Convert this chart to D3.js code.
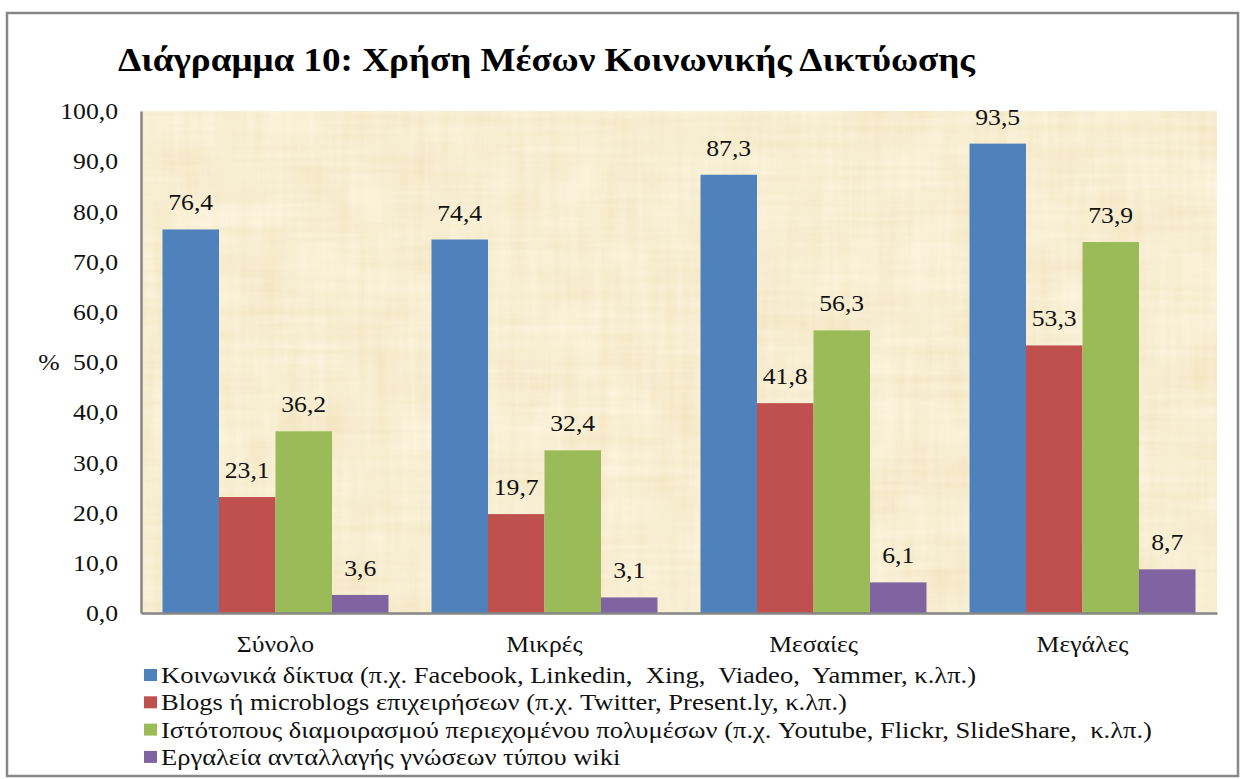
<!DOCTYPE html>
<html>
<head>
<meta charset="utf-8">
<script src="https://cdn.jsdelivr.net/npm/d3@7"></script>
<style>
  body { margin: 0; background: #fff; }
  svg text { font-family: "Liberation Serif", "Times New Roman", serif; }
</style>
</head>
<body>
<svg id="chart" width="1241" height="779"></svg>
<script>
// chart data
const categories = ['Σύνολο', 'Μικρές', 'Μεσαίες', 'Μεγάλες'];
const seriesNames = [
  'Κοινωνικά δίκτυα (π.χ. Facebook, Linkedin,  Xing,  Viadeo,  Yammer, κ.λπ.)',
  'Blogs ή microblogs επιχειρήσεων (π.χ. Twitter, Present.ly, κ.λπ.)',
  'Ιστότοπους διαμοιρασμού περιεχομένου πολυμέσων (π.χ. Youtube, Flickr, SlideShare,  κ.λπ.)',
  'Εργαλεία ανταλλαγής γνώσεων τύπου wiki'
];
const socialNetworks = [76.4, 74.4, 87.3, 93.5];
const blogs = [23.1, 19.7, 41.8, 53.3];
const mediaSharing = [36.2, 32.4, 56.3, 73.9];
const wikis = [3.6, 3.1, 6.1, 8.7];
const yTicks = [0, 10, 20, 30, 40, 50, 60, 70, 80, 90, 100];
const colors = ['#4F81BD', '#C0504D', '#9BBB59', '#8064A2'];

const seriesValues = [socialNetworks, blogs, mediaSharing, wikis];

const svg = d3.select('#chart');
const plot = { left: 141, right: 1217, top: 111, bottom: 613 };
const fontSize = 24;

const locale = d3.formatLocale({ decimal: ',', thousands: '.', grouping: [3], currency: ['', '€'] });
const fmt = locale.format('.1f');

// widen text horizontally (original is a little wide), anchor stays put
function stretch(sx) {
  return sel => sel.each(function() {
    const t = d3.select(this);
    const x = +t.attr('x') || 0;
    t.attr('x', x / sx).attr('transform', `scale(${sx},1)`);
  });
}

// papyrus-like texture: crossed fibres over soft blotches
const defs = svg.append('defs');
const filt = defs.append('filter').attr('id', 'papyrus')
  .attr('x', 0).attr('y', 0).attr('width', 1).attr('height', 1);
filt.append('feTurbulence')
  .attr('type', 'fractalNoise')
  .attr('baseFrequency', '0.006 0.12')
  .attr('numOctaves', 3)
  .attr('seed', 3)
  .attr('result', 'hfib');
filt.append('feTurbulence')
  .attr('type', 'fractalNoise')
  .attr('baseFrequency', '0.12 0.006')
  .attr('numOctaves', 3)
  .attr('seed', 11)
  .attr('result', 'vfib');
filt.append('feTurbulence')
  .attr('type', 'fractalNoise')
  .attr('baseFrequency', '0.02')
  .attr('numOctaves', 2)
  .attr('seed', 5)
  .attr('result', 'blot');
filt.append('feComposite')
  .attr('in', 'hfib').attr('in2', 'vfib')
  .attr('operator', 'arithmetic')
  .attr('k1', 0).attr('k2', 0.5).attr('k3', 0.5).attr('k4', 0)
  .attr('result', 'fib');
filt.append('feComposite')
  .attr('in', 'fib').attr('in2', 'blot')
  .attr('operator', 'arithmetic')
  .attr('k1', 0).attr('k2', 0.6).attr('k3', 0.4).attr('k4', 0)
  .attr('result', 'noise');
filt.append('feColorMatrix')
  .attr('in', 'noise')
  .attr('type', 'matrix')
  .attr('values', [
    0.15, 0, 0, 0, 0.86,
    0.24, 0, 0, 0, 0.73,
    0.4, 0, 0, 0, 0.44,
    0, 0, 0, 0, 1
  ].join(' '));

svg.append('rect')
  .attr('x', 7).attr('y', 13)
  .attr('width', 1231).attr('height', 763)
  .attr('fill', '#fff')
  .attr('stroke', '#878787')
  .attr('stroke-width', 2.5);

svg.append('text')
  .attr('x', 118).attr('y', 71)
  .attr('font-size', 33)
  .attr('font-weight', 'bold')
  .attr('textLength', 857)
  .attr('lengthAdjust', 'spacingAndGlyphs')
  .text('Διάγραμμα 10: Χρήση Μέσων Κοινωνικής Δικτύωσης');

svg.append('rect')
  .attr('x', plot.left).attr('y', plot.top)
  .attr('width', plot.right - plot.left).attr('height', plot.bottom - plot.top)
  .attr('fill', '#EBD6A4')
  .attr('filter', 'url(#papyrus)');

const x0 = d3.scaleBand().domain(categories).range([plot.left, plot.right]);
const gap = 43;
const x1 = d3.scaleBand().domain(d3.range(seriesValues.length))
  .range([gap / 2, x0.bandwidth() - gap / 2]);
const y = d3.scaleLinear().domain([0, 100]).range([plot.bottom, plot.top]);

// bars + labels
seriesValues.forEach((vals, si) => {
  const g = svg.append('g');
  g.selectAll('rect').data(vals).join('rect')
    .attr('x', (d, i) => x0(categories[i]) + x1(si))
    .attr('y', d => y(d))
    .attr('width', x1.bandwidth())
    .attr('height', d => y(0) - y(d))
    .attr('fill', colors[si]);
  g.selectAll('text').data(vals).join('text')
    .attr('x', (d, i) => x0(categories[i]) + x1(si) + x1.bandwidth() / 2)
    .attr('y', d => y(d) - 19)
    .attr('text-anchor', 'middle')
    .attr('font-size', fontSize)
    .attr('fill', '#111')
    .text(d => fmt(d))
    .call(stretch(1.07));
});

// axes
const yAxis = svg.append('g')
  .attr('transform', `translate(${plot.left},0)`)
  .call(d3.axisLeft(y).tickValues(yTicks).tickSize(0).tickPadding(23).tickFormat(fmt));
yAxis.attr('font-family', null);
yAxis.select('.domain').attr('stroke', '#868686').attr('stroke-width', 2.5);
yAxis.selectAll('text')
  .attr('font-size', fontSize)
  .attr('fill', '#111')
  .call(stretch(1.07));

const xAxis = svg.append('g')
  .attr('transform', `translate(0,${plot.bottom})`)
  .call(d3.axisBottom(x0).tickSize(0).tickPadding(22));
xAxis.attr('font-family', null);
xAxis.select('.domain').attr('stroke', '#868686').attr('stroke-width', 2.5);
xAxis.selectAll('text')
  .attr('font-size', fontSize)
  .attr('fill', '#111')
  .call(stretch(1.07));

svg.append('text')
  .attr('x', 49).attr('y', y(50))
  .attr('dy', '0.35em')
  .attr('text-anchor', 'middle')
  .attr('font-size', fontSize)
  .attr('fill', '#111')
  .text('%')
  .call(stretch(1.07));

// legend
const legend = svg.append('g');
const legendRows = legend.selectAll('g').data(seriesNames).join('g')
  .attr('transform', (d, i) => `translate(144,${675 + i * 27.3})`);
legendRows.append('rect')
  .attr('x', 0).attr('y', -6)
  .attr('width', 13).attr('height', 12)
  .attr('fill', (d, i) => colors[i]);
legendRows.append('text')
  .attr('x', 17).attr('y', 8)
  .attr('font-size', fontSize)
  .attr('fill', '#111')
  .style('white-space', 'pre')
  .text(d => d)
  .call(stretch(1.105));
</script>
</body>
</html>
